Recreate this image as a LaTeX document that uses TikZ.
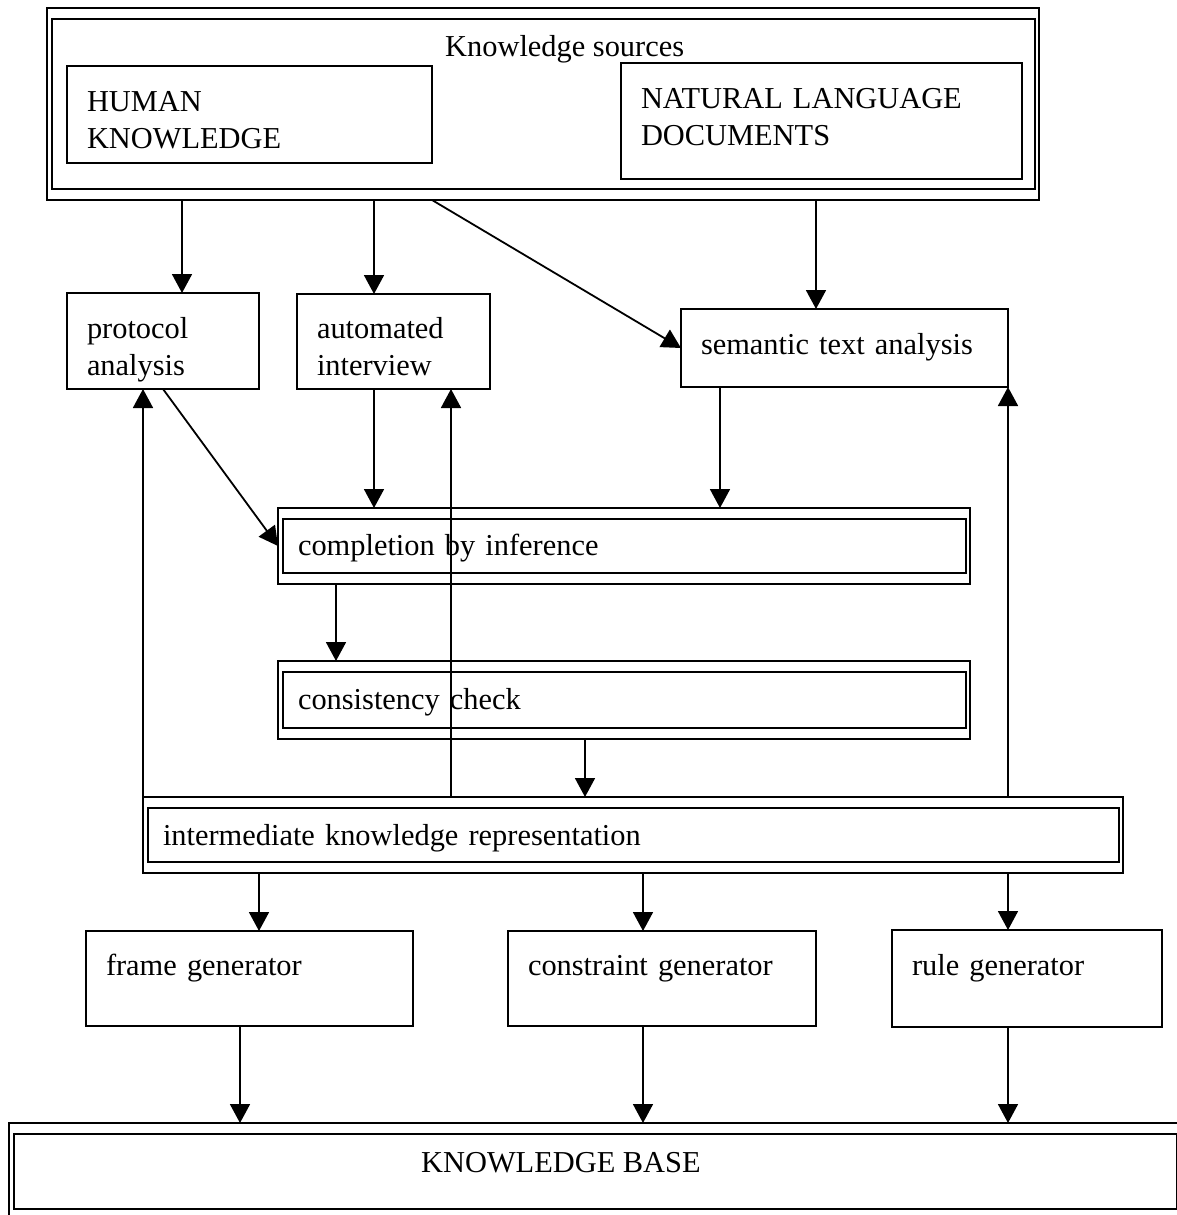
\documentclass[tikz,border=0pt]{standalone}
\usepackage{fontspec}
\setmainfont{Liberation Serif}
\usepackage{tikz}
\usetikzlibrary{arrows.meta}
\tikzset{
  every node/.style={font=\fontsize{30.4pt}{37pt}\selectfont},
  singlebox/.style={draw, line width=1.5pt, anchor=north west, align=left,
    inner xsep=20pt, inner ysep=0pt, outer sep=0pt},
  doublebox/.style={draw, line width=1.2pt, anchor=north west, align=left,
    inner xsep=20pt, inner ysep=0pt, outer sep=0pt,
    path picture={\draw[line width=2.8pt]
      ([shift={(5pt,-11pt)}]path picture bounding box.north west) rectangle
      ([shift={(-4pt,11pt)}]path picture bounding box.south east);}},
  titletext/.style={anchor=base west, inner sep=0pt},
  wire/.style={-{Triangle[length=19pt, width=20pt]}, line width=1.8pt}
}
\begin{document}
\begin{tikzpicture}[x=1pt, y=-1pt]
  \useasboundingbox (0,0) rectangle (1177,1215);
  \node[doublebox, minimum width=992pt, minimum height=192pt] (kso) at (47,8) {};
  \node[titletext] (ksotitle) at (445,57) {Knowledge sources};
  \node[singlebox, text width=325pt, text height=45pt, text depth=52pt] (human) at (67,66) {HUMAN\\KNOWLEDGE};
  \node[singlebox, text width=361pt, text height=45pt, text depth=71pt] (nld) at (621,63) {NATURAL LANGUAGE\\DOCUMENTS};
  \node[singlebox, text width=152pt, text height=45pt, text depth=51pt] (proto) at (67,293) {protocol\\analysis};
  \node[singlebox, text width=153pt, text height=44pt, text depth=51pt] (auto) at (297,294) {automated\\interview};
  \node[singlebox, text width=287pt, text height=45pt, text depth=33pt] (sem) at (681,309) {semantic text analysis};
  \node[doublebox, text width=652pt, text height=47pt, text depth=29pt] (compl) at (278,508) {completion by inference};
  \node[doublebox, text width=652pt, text height=48pt, text depth=30pt] (cons) at (278,661) {consistency check};
  \node[doublebox, text width=940pt, text height=48pt, text depth=28pt] (inter) at (143,797) {intermediate knowledge representation};
  \node[singlebox, text width=287pt, text height=44pt, text depth=51pt] (frame) at (86,931) {frame generator};
  \node[singlebox, text width=268pt, text height=44pt, text depth=51pt] (cgen) at (508,931) {constraint generator};
  \node[singlebox, text width=230pt, text height=45pt, text depth=52pt] (rgen) at (892,930) {rule generator};
  \node[doublebox, minimum width=1172pt, minimum height=97pt] (kb) at (9,1123) {};
  \node[titletext] (kbtitle) at (421,1172) {KNOWLEDGE BASE};

  \draw[wire] (kso.south -| 182,0) -- (proto.north -| 182,0);
  \draw[wire] (kso.south -| 374,0) -- (auto.north -| 374,0);
  \draw[wire] (human.east |- kso.south) -- (sem.west);
  \draw[wire] (kso.south -| 816,0) -- (sem.north -| 816,0);
  \draw[wire] (auto.south -| 374,0) -- (compl.north -| 374,0);
  \draw[wire] (sem.south -| 720,0) -- (compl.north -| 720,0);
  \draw[wire] (proto.south) -- (compl.west);
  \draw[wire] (compl.south -| 336,0) -- (cons.north -| 336,0);
  \draw[wire] (cons.south -| 585,0) -- (inter.north -| 585,0);
  \draw[wire] (inter.north west) -- (proto.south -| inter.north west);
  \draw[wire] (inter.north -| 451,0) -- (auto.south -| 451,0);
  \draw[wire] (inter.north -| sem.south east) -- (sem.south east);
  \draw[wire] (inter.south -| 259,0) -- (frame.north -| 259,0);
  \draw[wire] (inter.south -| 643,0) -- (cgen.north -| 643,0);
  \draw[wire] (inter.south -| 1008,0) -- (rgen.north -| 1008,0);
  \draw[wire] (frame.south -| 240,0) -- (kb.north -| 240,0);
  \draw[wire] (cgen.south -| 643,0) -- (kb.north -| 643,0);
  \draw[wire] (rgen.south -| 1008,0) -- (kb.north -| 1008,0);
\end{tikzpicture}
\end{document}
